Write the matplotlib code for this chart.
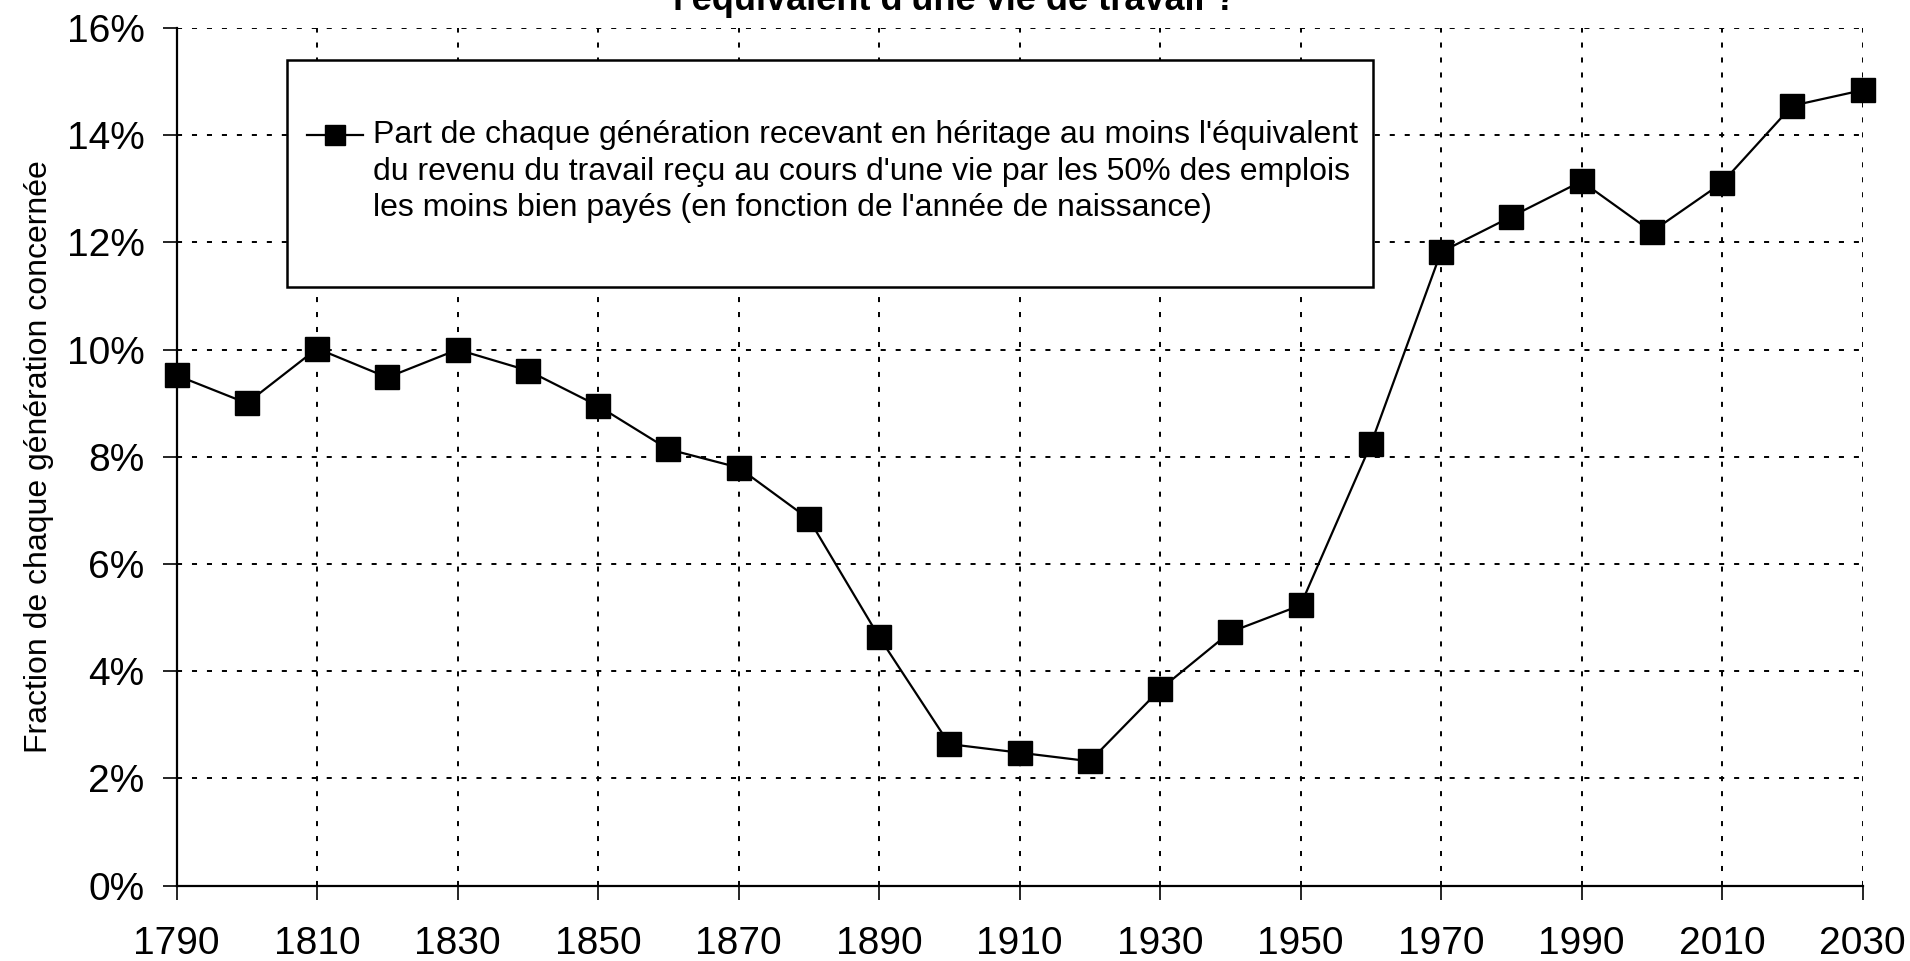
import matplotlib
matplotlib.use("Agg")
import matplotlib.pyplot as plt
import numpy as np
from matplotlib.ticker import PercentFormatter
from matplotlib.patches import Rectangle
from matplotlib.lines import Line2D

# birth cohorts and share of each generation (%)
years = [1790, 1800, 1810, 1820, 1830, 1840, 1850, 1860, 1870, 1880, 1890, 1900,
         1910, 1920, 1930, 1940, 1950, 1960, 1970, 1980, 1990, 2000, 2010, 2020, 2030]
share = [9.52, 9.00, 10.02, 9.48, 10.00, 9.61, 8.95, 8.14, 7.80, 6.84, 4.64, 2.64,
         2.48, 2.32, 3.66, 4.73, 5.23, 8.23, 11.82, 12.48, 13.14, 12.20, 13.11, 14.55, 14.84]

title = "l'équivalent d'une vie de travail ?"
ylabel = "Fraction de chaque génération concernée"
legend_label = ("Part de chaque génération recevant en héritage au moins l'équivalent\n"
                "du revenu du travail reçu au cours d'une vie par les 50% des emplois\n"
                "les moins bien payés (en fonction de l'année de naissance)")

plt.rcParams['font.family'] = ['Liberation Sans', 'DejaVu Sans']

fig = plt.figure(figsize=(19.10, 9.61), dpi=100)
ax = fig.add_axes([176.6 / 1910, 1 - 885.6 / 961, (1862.5 - 176.6) / 1910, (885.6 - 28) / 961])

ax.plot(years, share, color='black', lw=1.6, marker='s', markersize=17,
        markerfacecolor='black', markeredgecolor='black', clip_on=False, zorder=3)

ax.set_xlim(1790, 2030)
ax.set_ylim(0, 16)
ax.set_xticks(np.arange(1790, 2031, 20))
ax.set_yticks(np.arange(0, 16.1, 2))
ax.yaxis.set_major_formatter(PercentFormatter(decimals=0))
ax.tick_params(axis='both', labelsize=28, direction='out', length=10, width=1.2)
ax.tick_params(axis='x', pad=19)
ax.tick_params(axis='y', pad=13)
ax.grid(True, color='black', linestyle=(0, (2.6, 5.1)), linewidth=1.4)

for s in ['top', 'right']:
    ax.spines[s].set_visible(False)
ax.spines['left'].set_linewidth(1.6)
ax.spines['bottom'].set_linewidth(1.6)

ax.set_ylabel(ylabel, fontsize=23)
ax.yaxis.set_label_coords(-0.073, 0.5)

# legend box drawn by hand so the key sits on the first text line
x0, x1 = 236 / 1568, 1127 / 1568
y0, y1 = 1 - 236 / 789, 1 - 49 / 789
ax.add_patch(Rectangle((x0, y0), x1 - x0, y1 - y0, transform=fig.transFigure,
                       facecolor='white', edgecolor='black', lw=1.8,
                       clip_on=False, zorder=5))
ky = 1 - 111 / 789
ax.add_line(Line2D([252 / 1568, 298 / 1568], [ky, ky], transform=fig.transFigure,
                   color='black', lw=1.6, clip_on=False, zorder=6))
ax.add_line(Line2D([275 / 1568], [ky], transform=fig.transFigure, marker='s',
                   markersize=15, color='black', clip_on=False, zorder=6))
ax.text(306 / 1568, 1 - 141 / 789, legend_label, transform=fig.transFigure,
        ha='left', va='center', fontsize=23, linespacing=1.28, zorder=6)

fig.text(0.5, 1 - 10 / 961, title, ha='center', va='baseline', fontsize=26, fontweight='bold')

fig.savefig("out.png", dpi=100)
